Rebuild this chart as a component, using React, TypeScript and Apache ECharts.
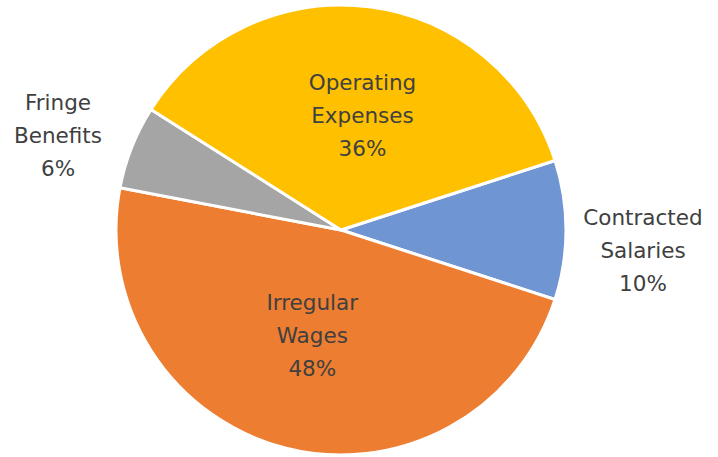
import React, { useEffect, useRef } from "react";
import * as echarts from "echarts";

const categories = ["Contracted Salaries", "Irregular Wages", "Fringe Benefits", "Operating Expenses"];
const displayNames = ["Contracted\nSalaries", "Irregular\nWages", "Fringe\nBenefits", "Operating\nExpenses"];
const values = [10, 48, 6, 36];
const colors = ["#6F95D3", "#ED7D31", "#A5A5A5", "#FFC000"];
const insideLabels = [false, true, false, true];

export default function App() {
  const ref = useRef<HTMLDivElement>(null);
  useEffect(() => {
    if (!ref.current) return;
    const chart = echarts.init(ref.current, null, { renderer: "svg" });
    const data = categories.map((name, i) => ({
      name,
      value: values[i],
      itemStyle: { color: colors[i] },
      label: {
        position: insideLabels[i] ? "inside" : "outside",
      },
    }));
    chart.setOption({
      animation: false,
      backgroundColor: "#ffffff",
      series: [
        {
          type: "pie",
          center: [341, 230],
          radius: [0, 225],
          startAngle: 18,
          clockwise: true,
          avoidLabelOverlap: false,
          itemStyle: { borderColor: "#ffffff", borderWidth: 3 },
          label: {
            show: true,
            fontFamily: "DejaVu Sans",
            fontSize: 21.5,
            color: "#404040",
            lineHeight: 33,
            align: "center",
            formatter: (p: any) => `${displayNames[p.dataIndex]}\n${Math.round(p.percent)}%`,
          },
          labelLine: { show: false },
          labelLayout: (p: any) => {
            if (p.dataIndex === 0) {
              return { x: 643, y: 250, align: "center", verticalAlign: "middle" };
            }
            if (p.dataIndex === 2) {
              return { x: 58, y: 135, align: "center", verticalAlign: "middle" };
            }
            if (p.dataIndex === 3) {
              return { dx: 7, dy: 0 };
            }
            if (p.dataIndex === 1) {
              return { dx: 0, dy: -6 };
            }
            return {};
          },
          data,
        },
      ],
    });
    return () => chart.dispose();
  }, []);
  return (
    <div
      ref={ref}
      style={{ position: "absolute", left: 0, top: 0, width: 718, height: 457 }}
    />
  );
}
